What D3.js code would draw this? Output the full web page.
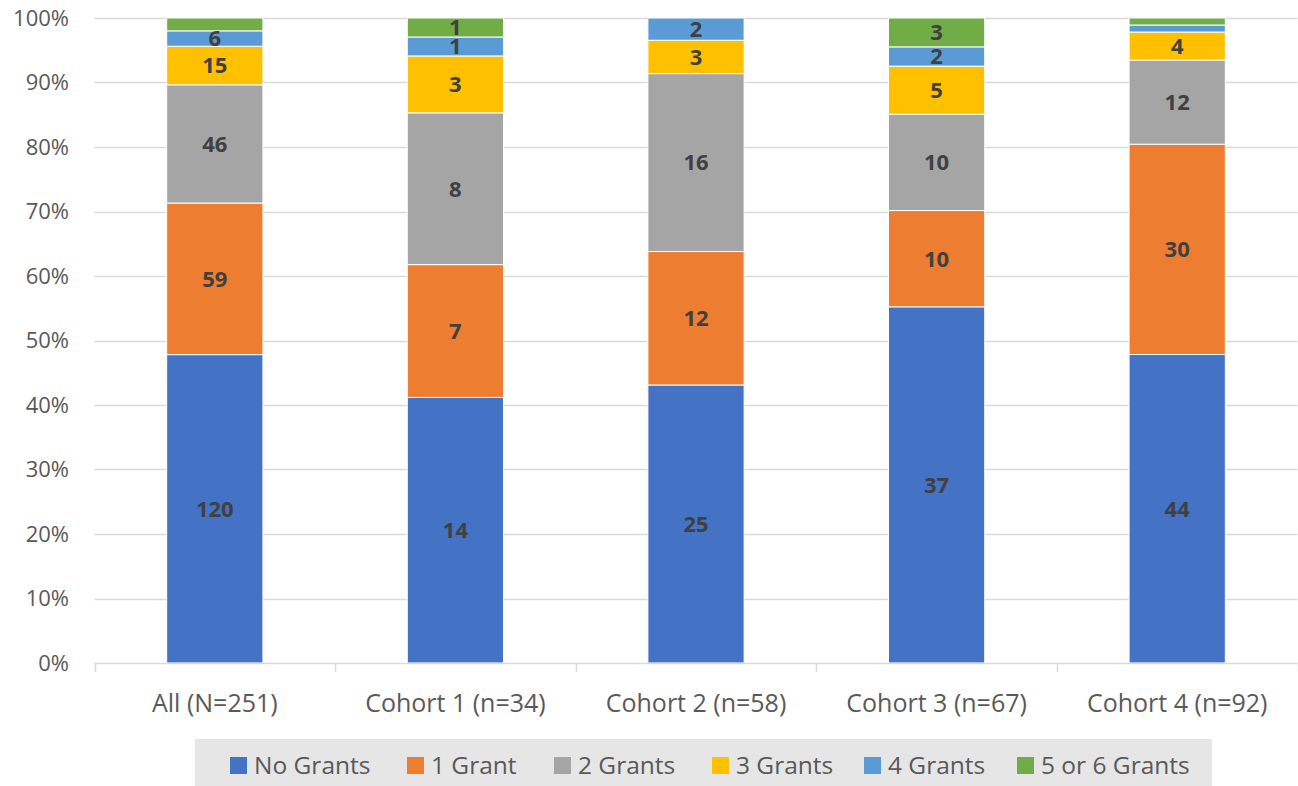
<!DOCTYPE html>
<html><head><meta charset="utf-8">
<script src="https://cdn.jsdelivr.net/npm/d3@7"></script>
<style>body{margin:0;background:#fff;} text{font-family:"Open Sans",sans-serif;}</style>
</head><body>
<svg id="chart" width="1298" height="786"></svg>
<script>
const categories = ["All (N=251)", "Cohort 1 (n=34)", "Cohort 2 (n=58)", "Cohort 3 (n=67)", "Cohort 4 (n=92)"];
const seriesNames = ["No Grants", "1 Grant", "2 Grants", "3 Grants", "4 Grants", "5 or 6 Grants"];
const noGrants = [120, 14, 25, 37, 44];
const oneGrant = [59, 7, 12, 10, 30];
const twoGrants = [46, 8, 16, 10, 12];
const threeGrants = [15, 3, 3, 5, 4];
const fourGrants = [6, 1, 2, 2, 1];
const fiveSixGrants = [5, 1, 0, 3, 1];
const yTicks = [0, 0.1, 0.2, 0.3, 0.4, 0.5, 0.6, 0.7, 0.8, 0.9, 1.0];
const colors = ["#4472C4", "#ED7D31", "#A5A5A5", "#FFC000", "#5B9BD5", "#70AD47"];

(function(){
const seriesValues = [noGrants, oneGrant, twoGrants, threeGrants, fourGrants, fiveSixGrants];
const rows = categories.map((c, i) => {
  const r = {cat: c};
  let total = 0;
  seriesNames.forEach((s, j) => { r[s] = seriesValues[j][i]; total += seriesValues[j][i]; });
  r.total = total;
  return r;
});
const normRows = rows.map(r => {
  const o = {cat: r.cat};
  seriesNames.forEach(s => o[s] = r[s] / r.total);
  return o;
});
const stack = d3.stack().keys(seriesNames)(normRows);

const svg = d3.select("#chart");
const pL = 94.5, pR = 1297.5, pT = 18, pB = 663;
const x = d3.scaleBand().domain(categories).range([pL, pR]).paddingInner(0).paddingOuter(0);
const y = d3.scaleLinear().domain([0, 1]).range([pB, pT]);
const barW = x.bandwidth() * 0.4;

svg.append("g").selectAll("line").data(yTicks.slice(1)).join("line")
  .attr("x1", pL).attr("x2", pR)
  .attr("y1", d => Math.round(y(d)) + 0.5).attr("y2", d => Math.round(y(d)) + 0.5)
  .attr("stroke", "#d9d9d9").attr("stroke-width", 1.5);

svg.append("g").selectAll("text").data(yTicks).join("text")
  .attr("x", 69).attr("y", d => y(d)).attr("dy", "0.36em")
  .attr("text-anchor", "end").attr("font-size", 22).attr("fill", "#595959")
  .text(d => d3.format(".0%")(d));

const g = svg.append("g");
stack.forEach((layer, li) => {
  g.append("g").selectAll("rect").data(layer).join("rect")
    .attr("x", d => x(d.data.cat) + (x.bandwidth() - barW) / 2)
    .attr("width", barW)
    .attr("y", d => y(d[1]))
    .attr("height", d => Math.max(0, y(d[0]) - y(d[1])))
    .attr("fill", colors[li])
    .attr("stroke", "#ffffff").attr("stroke-width", 1);
});

stack.forEach((layer, li) => {
  const key = seriesNames[li];
  g.append("g").selectAll("text").data(layer.filter(d => (y(d[0]) - y(d[1])) > 15)).join("text")
    .attr("x", d => x(d.data.cat) + x.bandwidth() / 2)
    .attr("y", d => (y(d[0]) + y(d[1])) / 2).attr("dy", "0.36em")
    .attr("text-anchor", "middle").attr("font-size", 22).attr("font-weight", "bold")
    .attr("fill", "#404040")
    .text(d => rows.find(r => r.cat === d.data.cat)[key]);
});

const xAxis = d3.axisBottom(x).tickSize(0).tickPadding(0);
const ax = svg.append("g").attr("transform", `translate(0,${pB})`).call(xAxis);
ax.select(".domain").remove();
ax.append("line").attr("x1", pL).attr("x2", pR).attr("y1", 0.5).attr("y2", 0.5)
  .attr("stroke", "#d9d9d9").attr("stroke-width", 1.5);
const boundaries = categories.map(c => x(c)).concat([pR]);
ax.selectAll("line.b").data(boundaries).join("line").attr("class", "b")
  .attr("x1", d => Math.round(d) + 0.5).attr("x2", d => Math.round(d) + 0.5)
  .attr("y1", 0).attr("y2", 9).attr("stroke", "#d9d9d9").attr("stroke-width", 1.5);
ax.selectAll(".tick text").attr("y", 40).attr("dy", "0.36em")
  .attr("font-size", 25).attr("fill", "#595959").attr("font-family", "Open Sans, sans-serif");

const legend = svg.append("g");
legend.append("rect").attr("x", 195).attr("y", 739).attr("width", 1017).attr("height", 50).attr("fill", "#e6e6e6");
const legendX = [230, 407, 554, 712, 864, 1017];
seriesNames.forEach((s, i) => {
  legend.append("rect").attr("x", legendX[i]).attr("y", 757).attr("width", 17).attr("height", 17).attr("fill", colors[i]);
  legend.append("text").attr("x", legendX[i] + 24).attr("y", 765).attr("dy", "0.36em")
    .attr("font-size", 24.5).attr("fill", "#595959").text(s);
});
})();
</script>
</body></html>
